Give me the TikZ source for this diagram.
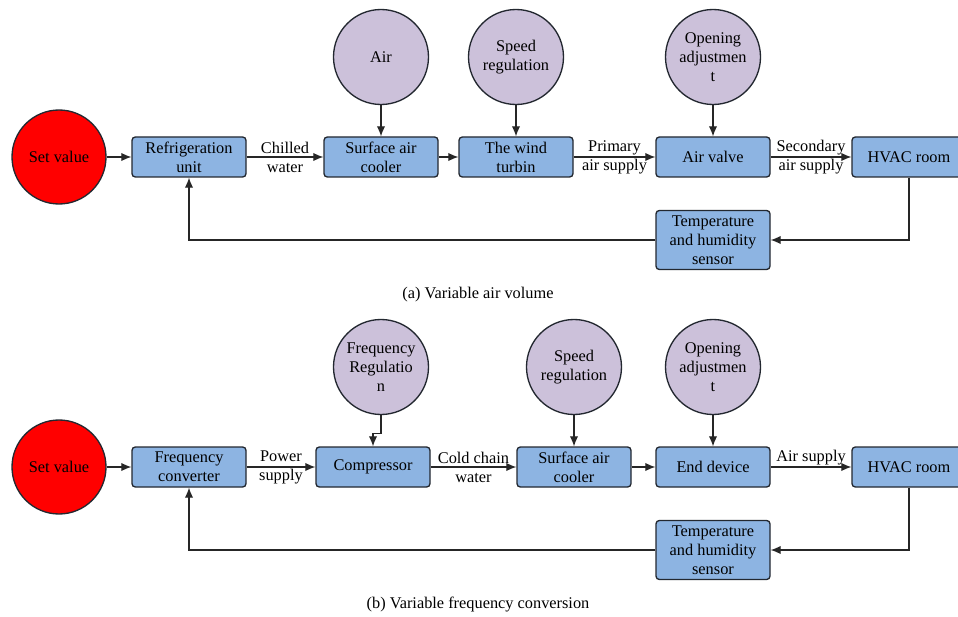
\documentclass[tikz,border=0pt]{standalone}
\usepackage{fontspec}
\setmainfont{Liberation Serif}
\usepackage{xcolor}
\usepackage{tikz}
\usetikzlibrary{shapes,arrows.meta,positioning,calc}

\definecolor{boxblue}{RGB}{141,180,226}
\definecolor{lilac}{RGB}{204,193,218}
\definecolor{edgegray}{RGB}{35,40,48}

\begin{document}
\begin{tikzpicture}[
    x=0.6pt, y=-0.6pt,
    every node/.style={font=\fontsize{9.8}{11.5}\selectfont},
    block/.style={draw=edgegray, fill=boxblue, rounded corners=2pt, line width=0.8pt,
        minimum width=68.4pt, minimum height=24pt, align=center, inner sep=1pt},
    tallblock/.style={block, minimum height=35.4pt},
    setpoint/.style={circle, draw=edgegray, fill=red, line width=0.8pt,
        minimum size=56.4pt, inner sep=0pt, align=center},
    adjust/.style={circle, draw=edgegray, fill=lilac, line width=0.8pt,
        minimum size=57pt, inner sep=0pt, align=center},
    flow/.style={-{Latex[length=6pt,width=5pt]}, line width=0.7pt, draw=black!85},
    lbl/.style={align=center, inner sep=1pt}
]
    \useasboundingbox (0,0) rectangle (958,617);

    % (a) Variable air volume
    \node[setpoint] (setA) at (59,157) {Set value};
    \node[block] (refrig) at (189,157) {Refrigeration\\unit};
    \node[block] (coolerA) at (381,157) {Surface air\\cooler};
    \node[block] (turbine) at (516,157) {The wind\\turbin};
    \node[block] (valve) at (713,157) {Air valve};
    \node[block] (roomA) at (909,157) {HVAC room};
    \node[tallblock] (sensorA) at (713,240) {Temperature\\and humidity\\sensor};

    \node[adjust] (air) at (381,57) {Air};
    \node[adjust] (speedA) at (516,57) {Speed\\regulation};
    \node[adjust] (openA) at (713,57) {Opening\\adjustmen\\t};

    \draw[flow] (setA) -- (refrig);
    \draw[flow] (refrig) -- node[lbl] {Chilled\\water} (coolerA);
    \draw[flow] (coolerA) -- (turbine);
    \draw[flow] (turbine) -- node[lbl] {Primary\\air supply} (valve);
    \draw[flow] (valve) -- node[lbl] {Secondary\\air supply} (roomA);
    \draw[flow] (air) -- (coolerA);
    \draw[flow] (speedA) -- (turbine);
    \draw[flow] (openA) -- (valve);

    % feedback
    \draw[flow] (roomA.south) |- (sensorA.east);
    \draw[flow] (sensorA.west) -| (refrig.south);

    \node (capA) at (478,295) {(a) Variable air volume};

    % (b) Variable frequency conversion
    \node[setpoint] (setB) at (59,467) {Set value};
    \node[block] (conv) at (189,467) {Frequency\\converter};
    \node[block] (comp) at (373,467) {Compressor};
    \node[block] (coolerB) at (574,467) {Surface air\\cooler};
    \node[block] (enddev) at (713,467) {End device};
    \node[block] (roomB) at (909,467) {HVAC room};
    \node[tallblock] (sensorB) at (713,550) {Temperature\\and humidity\\sensor};

    \node[adjust] (freqreg) at (381,367) {Frequency\\Regulatio\\n};
    \node[adjust] (speedB) at (574,367) {Speed\\regulation};
    \node[adjust] (openB) at (713,367) {Opening\\adjustmen\\t};

    \draw[flow] (setB) -- (conv);
    \draw[flow] (conv) -- node[lbl] {Power\\supply} (comp);
    \draw[flow] (comp) -- node[lbl] {Cold chain\\water} (coolerB);
    \draw[flow] (coolerB) -- (enddev);
    \draw[flow] (enddev) -- node[lbl, above] {Air supply} (roomB);
    \draw[flow] (freqreg.south) -- ++(0,18) -| (comp.north);
    \draw[flow] (speedB) -- (coolerB);
    \draw[flow] (openB) -- (enddev);

    % feedback
    \draw[flow] (roomB.south) |- (sensorB.east);
    \draw[flow] (sensorB.west) -| (conv.south);

    \node (capB) at (478,605) {(b) Variable frequency conversion};
\end{tikzpicture}
\end{document}
